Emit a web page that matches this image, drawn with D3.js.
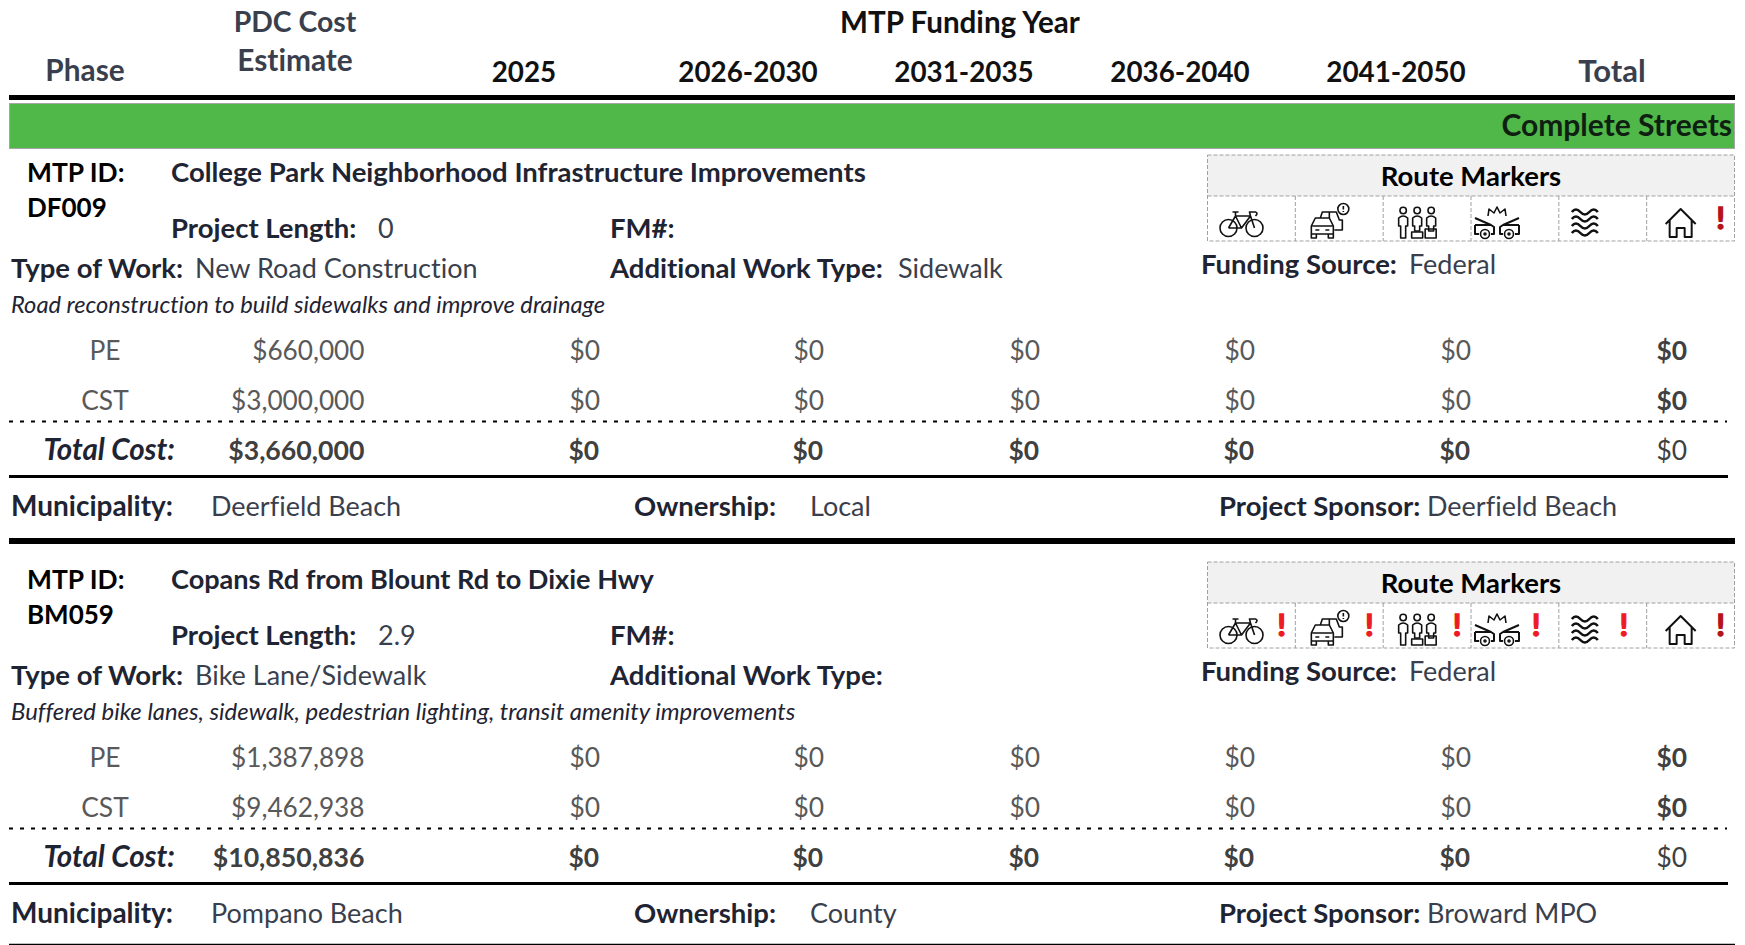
<!DOCTYPE html>
<html>
<head>
<meta charset="utf-8">
<script src="https://d3js.org/d3.v7.min.js"></script>
<style>
  html, body { margin: 0; padding: 0; background: #fff; overflow: hidden; }
  text { font-family: Lato, "Open Sans", sans-serif; font-variant-ligatures: none; }
</style>
</head>
<body>
<script>
let w = 1745;
let h = 945;

// chart values
let yearColumns = ["2025", "2026-2030", "2031-2035", "2036-2040", "2041-2050", "Total"];
let phases = ["PE", "CST"];
let mtpIds = ["DF009", "BM059"];
let titles = ["College Park Neighborhood Infrastructure Improvements", "Copans Rd from Blount Rd to Dixie Hwy"];
let lengths = ["0", "2.9"];
let workTypes = ["New Road Construction", "Bike Lane/Sidewalk"];
let extraWorkTypes = ["Sidewalk", ""];
let fundingSources = ["Federal", "Federal"];
let descriptions = ["Road reconstruction to build sidewalks and improve drainage",
  "Buffered bike lanes, sidewalk, pedestrian lighting, transit amenity improvements"];
let peCosts = [660000, 1387898];
let cstCosts = [3000000, 9462938];
let totalCosts = [3660000, 10850836];
let peByYear = [[0, 0, 0, 0, 0, 0], [0, 0, 0, 0, 0, 0]];
let cstByYear = [[0, 0, 0, 0, 0, 0], [0, 0, 0, 0, 0, 0]];
let totalByYear = [[0, 0, 0, 0, 0, 0], [0, 0, 0, 0, 0, 0]];
let municipalities = ["Deerfield Beach", "Pompano Beach"];
let owners = ["Local", "County"];
let sponsors = ["Deerfield Beach", "Broward MPO"];
let markers = ["bike", "traffic", "people", "crash", "flood", "house"];
let markerFlags = [[0, 0, 0, 0, 0, 1], [1, 1, 1, 1, 1, 1]];

let money = d3.format("$,");

let xRight = d3.scaleOrdinal().domain(yearColumns).range([600, 824, 1040, 1255, 1471, 1687]);
let xHead = d3.scaleOrdinal().domain(yearColumns).range([524, 748, 964, 1180, 1396, 1612]);
let xMarker = d3.scaleBand().domain(markers).range([1207.5, 1734.5]);
let iconOffset = d3.scaleOrdinal().domain(markers).range([34, 34, 34, 26, 26, 34]);
let flagOffset = d3.scaleOrdinal().domain(markers).range([74, 74, 74, 65, 65, 74]);
let yBlock = d3.scaleBand().domain(mtpIds).range([0, 814]);

let ink = "#1f2433";
let soft = "#3a3f4d";
let grey = "#595959";
let sizeBold = 27.5;
let sizeText = 27;
let sizeNumber = 26.4;

let svg = d3.select("body").append("svg")
  .attr("width", w)
  .attr("height", h)
  .style("display", "block");

function label(g, x, y, str, opt) {
  opt = opt || {};
  return g.append("text")
    .attr("x", x)
    .attr("y", y)
    .attr("text-anchor", opt.anchor || "start")
    .attr("font-size", opt.size || (opt.bold ? sizeBold : sizeText))
    .attr("font-weight", opt.bold ? 700 : 400)
    .attr("font-style", opt.italic ? "italic" : "normal")
    .attr("fill", opt.fill || ink)
    .text(str);
}

function rule(g, x1, x2, y, width, dash) {
  g.append("line")
    .attr("x1", x1).attr("x2", x2)
    .attr("y1", y).attr("y2", y)
    .attr("stroke", "#000")
    .attr("stroke-width", width)
    .attr("stroke-dasharray", dash || null);
}

// header
label(svg, 85, 80.5, "Phase", {anchor: "middle", bold: true, fill: soft, size: 29.8});
label(svg, 295, 32, "PDC Cost", {anchor: "middle", bold: true, fill: soft, size: 28.4});
label(svg, 295, 71, "Estimate", {anchor: "middle", bold: true, fill: soft, size: 29.8});
label(svg, 960, 33, "MTP Funding Year", {anchor: "middle", bold: true, fill: "#111", size: 29.6});
yearColumns.forEach(function(d) {
  label(svg, xHead(d), 81.5, d, {anchor: "middle", bold: true, fill: d == "Total" ? soft : "#111", size: d == "Total" ? 31 : 27.8});
});
rule(svg, 9, 1735, 97.5, 5);

svg.append("rect")
  .attr("x", 9.5).attr("y", 103.5)
  .attr("width", 1725).attr("height", 45)
  .attr("fill", "#50b848")
  .attr("stroke", "#a6a6a6")
  .attr("stroke-width", 1);
label(svg, 1732, 136, "Complete Streets", {anchor: "end", bold: true, fill: "#0f1f12", size: 30});

// marker glyphs, each drawn around 0,0
let glyphs = {
  bike: function(g) {
    g.append("circle").attr("cx", -13).attr("cy", 5).attr("r", 8.5);
    g.append("circle").attr("cx", 13).attr("cy", 5).attr("r", 8.5);
    g.append("path").attr("d", "M-13 5L-6 -7H9L13 5M-6 -7L0 5H-13M0 5L9 -7M-9 -11H-3M-6 -11V-7M9 -7L8 -11H14Q17 -10 14 -7");
  },
  traffic: function(g) {
    g.append("path").attr("d", "M-9 -5L-7 -11H7L10 -3H13V7H5M0 -5V-11");
    g.append("path").attr("d", "M-18 3L-14 -5H0L4 3V11H-18ZM-18 11V15H-13V11M-1 11V15H4V11M-14 7H-10M-4 7H0M-17 3H3");
    g.append("circle").attr("cx", 14).attr("cy", -14).attr("r", 5.5);
    g.append("path").attr("d", "M14 -17V-13.5M14 -12V-11");
  },
  people: function(g) {
    [-14, 0, 14].forEach(function(x, i) {
      g.append("circle").attr("cx", x).attr("cy", -12.5).attr("r", 3.2);
      g.append("path").attr("d", "M" + (x - 4.5) + " 3V-5Q" + x + " -9 " + (x + 4.5) + " -5V3H" + (x + 2.5) + "V" + (i ? 8 : 15) + "H" + (x - 2.5) + "V3Z");
    });
    g.append("path").attr("d", "M-5.5 15V9H5.5V15ZM8 15V6H19V15Z");
  },
  crash: function(g) {
    g.append("path").attr("d", "M-9 -7L-8 -14L-3 -10L0 -16L3 -10L8 -14L9 -7");
    g.append("path").attr("stroke-width", 2).attr("d", "M-22 -5L-6 2L-3 4V11H-6M-22 2V11H-18M-22 2H-6M22 -5L6 2L3 4V11H6M22 2V11H18M22 2H6");
    [-12, 12].forEach(function(x) {
      g.append("circle").attr("cx", x).attr("cy", 11).attr("r", 4.5).attr("fill", "#fff");
      g.append("circle").attr("cx", x).attr("cy", 11).attr("r", 1);
    });
  },
  flood: function(g) {
    [-11, -4, 3, 10].forEach(function(y) {
      g.append("path").attr("stroke-width", 2.6)
        .attr("d", "M-13 " + y + "Q-9 " + (y - 5) + " -4.5 " + y + "T4.5 " + y + "T13 " + y);
    });
  },
  house: function(g) {
    g.append("path").attr("stroke-width", 2)
      .attr("d", "M-15 1L0 -14L15 1M-11 -3V14H-4V5H4V14H11V-3");
  }
};

function drawMarkers(g, flags) {
  g.append("rect")
    .attr("x", xMarker.range()[0]).attr("y", 155)
    .attr("width", xMarker.range()[1] - xMarker.range()[0]).attr("height", 41)
    .attr("fill", "#f1f1f1");
  label(g, 1471, 185.5, "Route Markers", {anchor: "middle", bold: true, fill: "#000", size: 27.5});

  let dashed = "4 2";
  g.append("rect")
    .attr("x", xMarker.range()[0]).attr("y", 155)
    .attr("width", xMarker.range()[1] - xMarker.range()[0]).attr("height", 86)
    .attr("fill", "none").attr("stroke", "#a0a0a0").attr("stroke-dasharray", dashed);
  g.append("line")
    .attr("x1", xMarker.range()[0]).attr("x2", xMarker.range()[1])
    .attr("y1", 196).attr("y2", 196)
    .attr("stroke", "#a0a0a0").attr("stroke-dasharray", dashed);

  markers.forEach(function(m, i) {
    let x = xMarker(m);
    if (i > 0) {
      g.append("line")
        .attr("x1", x).attr("x2", x)
        .attr("y1", 196).attr("y2", 241)
        .attr("stroke", "#a0a0a0").attr("stroke-dasharray", dashed);
    }
    let icon = g.append("g")
      .attr("transform", "translate(" + (x + iconOffset(m)) + ",223)")
      .attr("fill", "none")
      .attr("stroke", "#111")
      .attr("stroke-width", 1.6)
      .attr("stroke-linejoin", "round");
    glyphs[m](icon);
    if (flags[i]) {
      let col = m == "house" ? "#b5121b" : "#ed1c24";
      label(g, x + flagOffset(m), 229, "!", {anchor: "middle", bold: true, size: 31, fill: col})
        .attr("stroke", col)
        .attr("stroke-width", 1.4);
    }
  });
}

// project blocks
mtpIds.forEach(function(id, i) {
  let g = svg.append("g").attr("transform", "translate(0," + yBlock(id) + ")");

  label(g, 27, 181.5, "MTP ID:", {bold: true, fill: "#000", size: 26.4});
  label(g, 27, 217, id, {bold: true, fill: "#000", size: 26});
  label(g, 171, 181.5, titles[i], {bold: true, size: i == 0 ? 27.5 : 27.1});

  label(g, 171, 237.5, "Project Length:", {bold: true});
  label(g, 378, 237.5, lengths[i], {fill: soft});
  label(g, 610, 237.5, "FM#:", {bold: true});

  label(g, 11, 277.5, "Type of Work:", {bold: true});
  label(g, 195, 277.5, workTypes[i], {fill: soft});
  label(g, 610, 277.5, "Additional Work Type:", {bold: true});
  label(g, 898, 277.5, extraWorkTypes[i], {fill: soft});

  label(g, 1201, 273.5, "Funding Source:", {bold: true});
  label(g, 1409, 273.5, fundingSources[i], {fill: soft});

  label(g, 11, 312.5, descriptions[i], {italic: true, size: i == 0 ? 23.7 : 23.9});

  drawMarkers(g, markerFlags[i]);

  let rows = [
    {phase: phases[0], y: 359.5, cost: peCosts[i], vals: peByYear[i]},
    {phase: phases[1], y: 409.5, cost: cstCosts[i], vals: cstByYear[i]}
  ];
  rows.forEach(function(r) {
    label(g, 105, r.y, r.phase, {anchor: "middle", fill: grey, size: sizeNumber});
    label(g, 364.5, r.y, money(r.cost), {anchor: "end", fill: grey, size: 26.2});
    yearColumns.forEach(function(c) {
      let k = yearColumns.indexOf(c);
      label(g, xRight(c), r.y, money(r.vals[k]), {
        anchor: "end",
        bold: c == "Total",
        fill: c == "Total" ? "#404040" : grey,
        size: sizeNumber
      });
    });
  });

  rule(g, 9, 1727, 421.5, 2, "4 7");

  label(g, 175, 460, "Total Cost:", {anchor: "end", bold: true, italic: true, size: 29.5});
  label(g, 364.5, 460, money(totalCosts[i]), {anchor: "end", bold: true, fill: "#404040", size: 26.7});
  yearColumns.forEach(function(c, k) {
    label(g, xRight(c) - (c == "Total" ? 0 : 1), 460, money(totalByYear[i][k]), {
      anchor: "end",
      bold: c != "Total",
      fill: "#404040",
      size: sizeNumber
    });
  });

  rule(g, 9, 1728, 476.5, 3);

  label(g, 11, 516, "Municipality:", {bold: true, size: 28});
  label(g, 211, 516, municipalities[i], {fill: soft});
  label(g, 634, 516, "Ownership:", {bold: true});
  label(g, 810, 516, owners[i], {fill: soft});
  label(g, 1219, 516, "Project Sponsor:", {bold: true});
  label(g, 1427, 516, sponsors[i], {fill: soft});

  rule(g, 9, 1735, i == 0 ? 541 : 537.5, i == 0 ? 6 : 1.5);
});
</script>
</body>
</html>
